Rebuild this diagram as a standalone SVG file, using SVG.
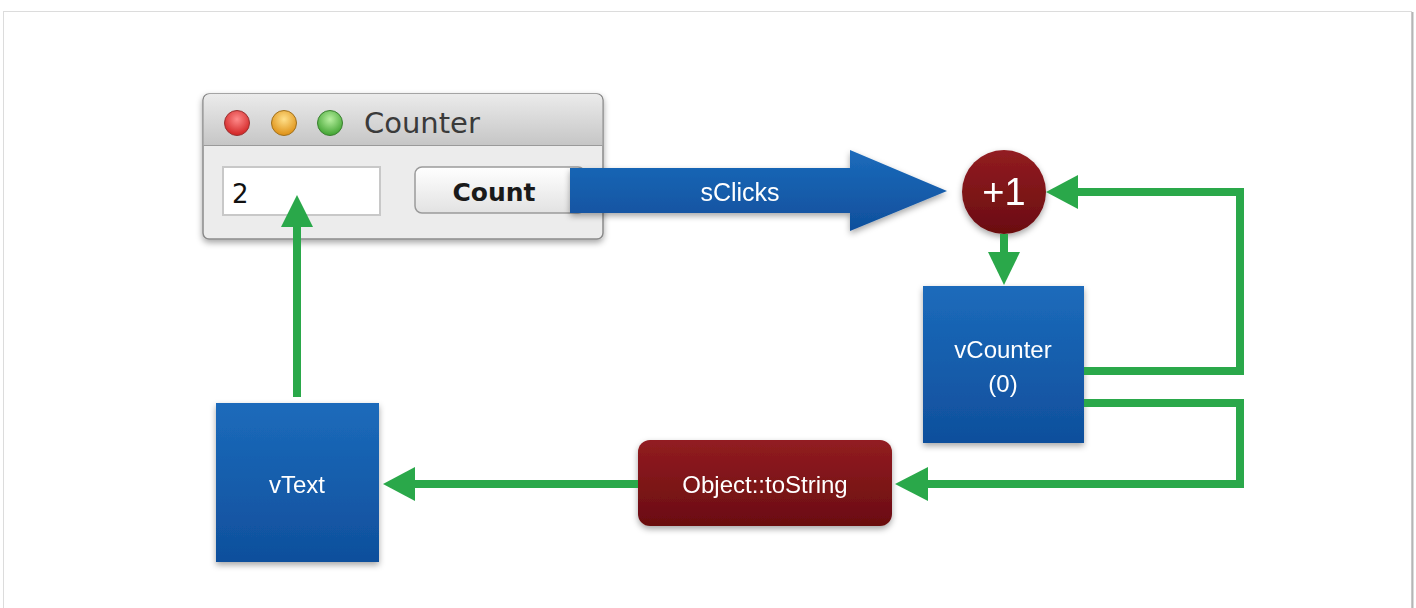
<svg xmlns="http://www.w3.org/2000/svg" width="1416" height="608" viewBox="0 0 1416 608">
<defs>
<linearGradient id="gBlue" x1="0" y1="0" x2="0" y2="1"><stop offset="0" stop-color="#1c6bbb"/><stop offset="1" stop-color="#0f4f9c"/></linearGradient>
<linearGradient id="gRed" x1="0" y1="0" x2="0" y2="1"><stop offset="0" stop-color="#921c21"/><stop offset="1" stop-color="#6a0d10"/></linearGradient>
<linearGradient id="gTitle" x1="0" y1="0" x2="0" y2="1"><stop offset="0" stop-color="#ebebeb"/><stop offset="1" stop-color="#c6c6c6"/></linearGradient>
<linearGradient id="gBtn" x1="0" y1="0" x2="0" y2="1"><stop offset="0" stop-color="#ffffff"/><stop offset="1" stop-color="#e2e2e2"/></linearGradient>
<radialGradient id="gR" cx="0.5" cy="0.35" r="0.6"><stop offset="0" stop-color="#ff8a8a"/><stop offset="1" stop-color="#d42a2a"/></radialGradient>
<radialGradient id="gO" cx="0.5" cy="0.35" r="0.6"><stop offset="0" stop-color="#ffe08a"/><stop offset="1" stop-color="#e0951c"/></radialGradient>
<radialGradient id="gG" cx="0.5" cy="0.35" r="0.6"><stop offset="0" stop-color="#b8f0a0"/><stop offset="1" stop-color="#48a838"/></radialGradient>
<filter id="sh" x="-20%" y="-20%" width="140%" height="150%"><feDropShadow dx="0" dy="3" stdDeviation="3" flood-color="#000" flood-opacity="0.35"/></filter>
<style>
.g{fill:none;stroke:#2aa84a;stroke-width:8}
.ah{fill:#2aa84a}
.wt{font-family:"Liberation Sans",Arial,sans-serif;fill:#fff;text-anchor:middle}
.lu{font-family:"DejaVu Sans",sans-serif}
</style>
</defs>
<rect x="0" y="0" width="1416" height="608" fill="#fff"/>
<rect x="3.5" y="11.5" width="1408" height="620" fill="#fff" stroke="#dcdcdc"/>
<line x1="1412.5" y1="12" x2="1412.5" y2="608" stroke="#b5b5b5" stroke-width="2"/>

<g id="window" filter="url(#sh)">
<rect x="203" y="94" width="400" height="145" rx="6" fill="#ececec" stroke="#8a8a8a" stroke-width="1.5"/>
<path d="M203.75,145 V100 a6,6 0 0 1 6,-6 H596.25 a6,6 0 0 1 6,6 V145 z" fill="url(#gTitle)"/>
<line x1="204" y1="145.5" x2="602" y2="145.5" stroke="#9a9a9a"/>
</g>
<g id="traffic">
<circle cx="237" cy="123" r="12.5" fill="url(#gR)" stroke="#9a3030" stroke-width="1"/>
<circle cx="284" cy="123" r="12.5" fill="url(#gO)" stroke="#a0701c" stroke-width="1"/>
<circle cx="330" cy="123" r="12.5" fill="url(#gG)" stroke="#3a8030" stroke-width="1"/>
<text x="364" y="133" class="lu" font-size="29" fill="#3a3a3a">Counter</text>
</g>
<g id="textfield">
<rect x="223" y="167" width="157" height="48" fill="#fff" stroke="#c8c8c8" stroke-width="2"/>
<text x="232" y="203" class="lu" font-size="26" fill="#111">2</text>
</g>
<g id="button">
<rect x="415" y="167" width="170" height="46" rx="7" fill="url(#gBtn)" stroke="#9a9a9a" stroke-width="1.5"/>
<text x="494" y="201" class="lu" font-size="25" font-weight="bold" fill="#1a1a1a" text-anchor="middle">Count</text>
</g>

<g id="sClicks" filter="url(#sh)">
<path d="M570,168 H850 V150 L947,191 L850,231 V213 H570 z" fill="url(#gBlue)"/>
<text x="740" y="201" class="wt" font-size="25">sClicks</text>
</g>

<g id="plus1" filter="url(#sh)">
<circle cx="1004" cy="192" r="42" fill="url(#gRed)"/>
<text x="1004" y="205" class="wt" font-size="38">+1</text>
</g>

<g id="vCounter" filter="url(#sh)">
<rect x="923" y="286" width="161" height="157" fill="url(#gBlue)"/>
<text x="1003" y="358" class="wt" font-size="24">vCounter</text>
<text x="1003" y="392" class="wt" font-size="24">(0)</text>
</g>

<g id="toString" filter="url(#sh)">
<rect x="638" y="440" width="254" height="86" rx="12" fill="url(#gRed)"/>
<text x="765" y="493" class="wt" font-size="24">Object::toString</text>
</g>

<g id="vText" filter="url(#sh)">
<rect x="216" y="403" width="163" height="159" fill="url(#gBlue)"/>
<text x="297" y="493" class="wt" font-size="24">vText</text>
</g>

<g id="connectors">
<path class="g" d="M1004,234 V256"/>
<path class="ah" d="M988,252 L1020,252 L1004,285 z"/>
<path class="g" d="M1084,371 H1240 V192 H1075"/>
<path class="ah" d="M1078,175 L1078,209 L1046,192 z"/>
<path class="g" d="M1084,403 H1240 V484 H925"/>
<path class="ah" d="M928,467 L928,501 L895,484 z"/>
<path class="g" d="M638,484 H412"/>
<path class="ah" d="M415,467 L415,501 L383,484 z"/>
<path class="g" d="M297,397 V224"/>
<path class="ah" d="M281,227 L313,227 L297,195 z"/>
</g>
</svg>
